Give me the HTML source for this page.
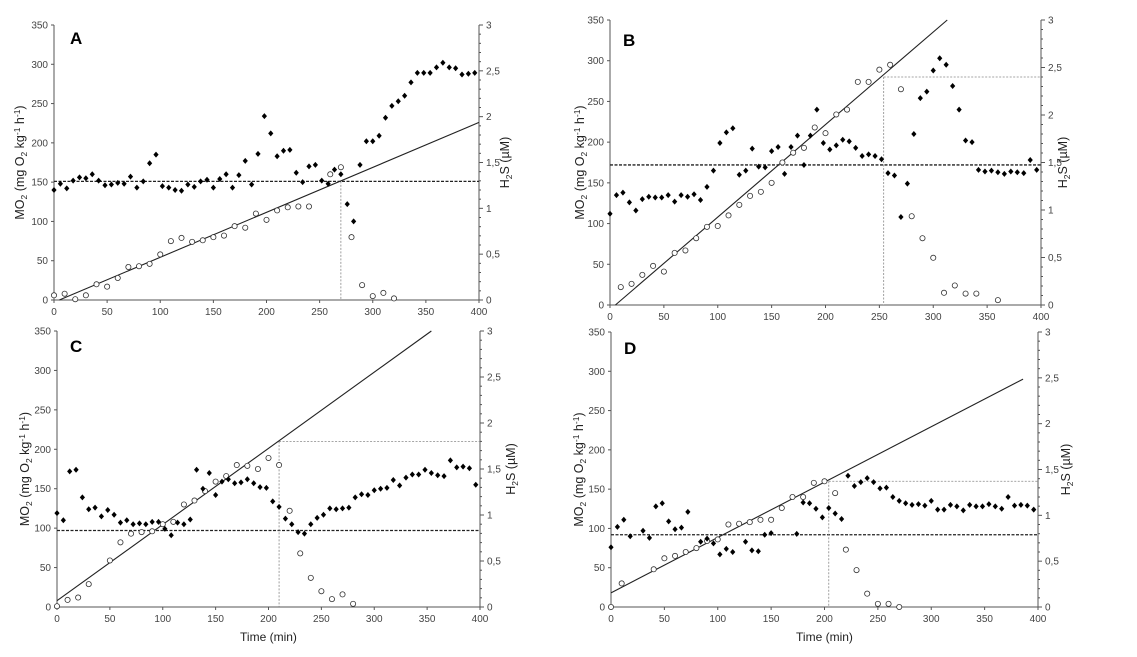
<!DOCTYPE html>
<html><head><meta charset="utf-8"><style>
html,body{margin:0;padding:0;background:#fff;}
svg{display:block;font-family:"Liberation Sans",Arial,sans-serif;}
</style></head><body>
<svg id="s" width="1137" height="657" viewBox="0 0 1137 657" xmlns="http://www.w3.org/2000/svg"></svg>
<script>
function ev(start,step,arr){return arr.map((v,i)=>[start+i*step,v]);}
const P=[
{L:'A',x0:54,x1:479,y0:300,y1:25,lx:70,ly:44,ylab:20,yrlab:505,time:false,
 f:ev(0,6,[140,148,142,152,156,155,160,152,146,147,149,148,157,143,151,174,185,145,143,140,139,147,144,151,153,143,154,160,143,159,177,147,186,234,212,183,190,191,162,150,170,172,152,148,166,160,122,100,172,202,202,209,232,247,253,260,277,289,289,289,296,302,296,295,287,288,289]),
 o:[[0,6],[10,8],[20,1],[30,6],[40,20],[50,17],[60,28],[70,42],[80,43],[90,46],[100,58],[110,75],[120,79],[130,74],[140,76],[150,80],[160,82],[170,94],[180,92],[190,110],[200,102],[210,114],[220,118],[230,119],[240,119],[260,160],[270,169],[280,80],[290,19],[300,5],[310,9],[320,2]],
 line:[[5,0],[400,226]],dash:151,vx:270,vy:151,hz:false},
{L:'B',x0:610,x1:1041,y0:305,y1:20,lx:623,ly:46,ylab:567+13,yrlab:1063,time:false,
 f:ev(0,6,[112,135,138,126,116,130,133,132,132,135,127,135,133,136,129,145,165,199,212,217,160,165,192,170,169,189,194,161,194,208,172,208,240,199,191,196,203,201,193,183,185,183,179,162,159,108,149,210,254,262,288,303,295,269,240,202,200,166,164,165,163,161,164,163,162,178,166]),
 o:[[10,22],[20,26],[30,37],[40,48],[50,41],[60,64],[70,67],[80,82],[90,96],[100,97],[110,110],[120,123],[130,134],[140,139],[150,150],[160,175],[170,187],[180,193],[190,218],[200,211],[210,234],[220,240],[230,274],[240,274],[250,289],[260,295],[270,265],[280,109],[290,82],[300,58],[310,15],[320,24],[330,14],[340,14],[360,6]],
 line:[[5,0],[313,350]],dash:172,vx:254,vy:280,hz:true},
{L:'C',x0:57,x1:480,y0:607,y1:331,lx:70,ly:352,ylab:25,yrlab:511,time:true,
 f:ev(0,6,[119,110,172,174,139,124,126,115,123,117,107,110,105,106,105,108,108,99,91,107,105,111,174,150,170,142,159,162,157,158,162,157,152,151,134,127,112,105,95,93,105,113,117,125,124,125,126,139,143,142,148,150,151,161,154,164,168,168,174,170,167,166,186,177,178,176,155]),
 o:[[0,1],[10,9],[20,12],[30,29],[50,59],[60,82],[70,93],[80,95],[90,96],[100,105],[110,108],[120,130],[130,135],[140,147],[150,159],[160,166],[170,180],[180,179],[190,175],[200,189],[210,180],[220,122],[230,68],[240,37],[250,20],[260,10],[270,16],[280,4]],
 line:[[0,8],[354,350]],dash:97,vx:210,vy:210,hz:true},
{L:'D',x0:611,x1:1038,y0:607,y1:332,lx:624,ly:354,ylab:567+12,yrlab:1066,time:true,
 f:[[0,76],[6,102],[12,111],[18,90],[30,97],[36,88],[42,128],[48,132],[54,109],[60,99],[66,101],[72,121],[84,83],[90,87],[96,81],[102,67],[108,74],[114,70],[126,83],[132,72],[138,71],[144,92],[150,94],[174,93],[180,133],[186,132],[192,125],[198,114],[204,126],[210,119],[216,112],[222,167],[228,154],[234,159],[240,164],[246,159],[252,151],[258,152],[264,140],[270,135],[276,132],[282,130],[288,131],[294,129],[300,135],[306,124],[312,124],[318,130],[324,128],[330,123],[336,130],[342,128],[348,128],[354,131],[360,128],[366,125],[372,140],[378,129],[384,130],[390,129],[396,124]],
 o:[[0,0],[10,30],[40,48],[50,62],[60,65],[70,70],[80,75],[90,84],[100,86],[110,105],[120,106],[130,108],[140,111],[150,111],[160,126],[170,140],[180,140],[190,158],[200,160],[210,145],[220,73],[230,47],[240,17],[250,4],[260,4],[270,0]],
 line:[[0,18],[386,290]],dash:92,vx:204,vy:160,hz:true}
];
let h='';
for(const p of P){
 const X=t=>p.x0+(p.x1-p.x0)*t/400, Y=v=>p.y0+(p.y1-p.y0)*v/350;
 const Yr=v=>p.y0+(p.y1-p.y0)*v/3;
 h+=`<line x1="${p.x0}" y1="${p.y1}" x2="${p.x0}" y2="${p.y0}" stroke="#555" stroke-width="1"/>`;
 h+=`<line x1="${p.x1}" y1="${p.y1}" x2="${p.x1}" y2="${p.y0}" stroke="#555" stroke-width="1"/>`;
 h+=`<line x1="${p.x0}" y1="${p.y0}" x2="${p.x1}" y2="${p.y0}" stroke="#555" stroke-width="1"/>`;
 for(let v=0;v<=350;v+=50){const y=Y(v);h+=`<line x1="${p.x0-3}" y1="${y}" x2="${p.x0}" y2="${y}" stroke="#555"/><text x="${p.x0-6}" y="${y+3.5}" font-size="10" fill="#444" text-anchor="end">${v}</text>`;}
 for(let t=0;t<=400;t+=50){const x=X(t);h+=`<line x1="${x}" y1="${p.y0}" x2="${x}" y2="${p.y0+3}" stroke="#555"/><text x="${x}" y="${p.y0+15}" font-size="10" fill="#444" text-anchor="middle">${t}</text>`;}
 for(let i=0;i<=30;i++){const y=Yr(i/10);const w=i%5==0?4:2;h+=`<line x1="${p.x1}" y1="${y}" x2="${p.x1+w}" y2="${y}" stroke="#555"/>`;
  if(i%5==0){const lab=(i/10).toString().replace('.',',');h+=`<text x="${p.x1+7}" y="${y+3.5}" font-size="10" fill="#444">${lab}</text>`;}}
 h+=`<text x="${p.lx}" y="${p.ly}" font-size="17" font-weight="bold">${p.L}</text>`;
 const cy=(p.y0+p.y1)/2;
 h+=`<text transform="translate(${p.ylab+4},${cy}) rotate(-90)" font-size="12.5" fill="#222" text-anchor="middle">MO<tspan font-size="8.5" dy="3">2</tspan><tspan dy="-3"> (mg O</tspan><tspan font-size="8.5" dy="3">2</tspan><tspan dy="-3"> kg</tspan><tspan font-size="8.5" dy="-4">-1</tspan><tspan dy="4"> h</tspan><tspan font-size="8.5" dy="-4">-1</tspan><tspan dy="4">)</tspan></text>`;
 h+=`<text transform="translate(${p.yrlab+4},${cy}) rotate(-90)" font-size="12.5" fill="#222" text-anchor="middle">H<tspan font-size="8.5" dy="3">2</tspan><tspan dy="-3">S (µM)</tspan></text>`;
 if(p.time) h+=`<text x="${(p.x0+p.x1)/2}" y="641" font-size="12" fill="#222" text-anchor="middle">Time (min)</text>`;
 h+=`<line x1="${p.x0}" y1="${Y(p.dash)}" x2="${p.x1}" y2="${Y(p.dash)}" stroke="#222" stroke-width="1.3" stroke-dasharray="3,1.5"/>`;
 h+=`<line x1="${X(p.vx)}" y1="${Y(p.vy)}" x2="${X(p.vx)}" y2="${p.y0}" stroke="#888" stroke-width="0.8" stroke-dasharray="2,1.5"/>`;
 if(p.hz) h+=`<line x1="${X(p.vx)}" y1="${Y(p.vy)}" x2="${p.x1}" y2="${Y(p.vy)}" stroke="#888" stroke-width="0.8" stroke-dasharray="2,1.5"/>`;
 h+=`<line x1="${X(p.line[0][0])}" y1="${Y(p.line[0][1])}" x2="${X(p.line[1][0])}" y2="${Y(p.line[1][1])}" stroke="#222" stroke-width="1.1"/>`;
 for(const [t,v] of p.o){h+=`<circle cx="${X(t)}" cy="${Y(v)}" r="2.6" fill="#fff" stroke="#333" stroke-width="0.8"/>`;}
 for(const [t,v] of p.f){const x=X(t),y=Y(v);h+=`<path d="M${x} ${y-3}L${x+2.6} ${y}L${x} ${y+3}L${x-2.6} ${y}Z" fill="#000"/>`;}
}
document.getElementById('s').innerHTML=h;
</script>
</body></html>
